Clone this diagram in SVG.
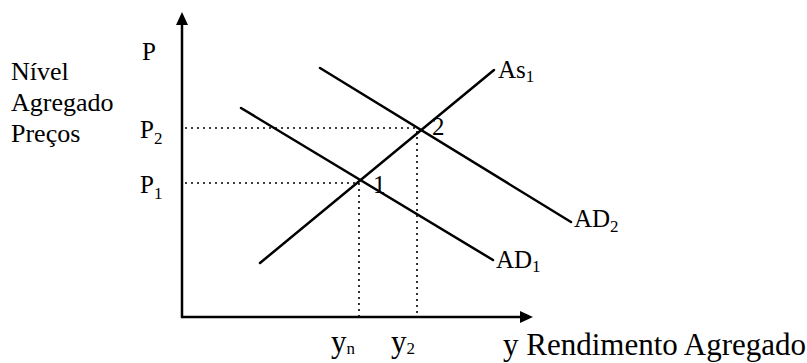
<svg xmlns="http://www.w3.org/2000/svg" width="807" height="363" viewBox="0 0 807 363">
<style>
text{font-family:"Liberation Serif","Times New Roman","DejaVu Serif",serif;fill:#000}
.lbl{font-size:25px}
.side{font-size:26px}
.big{font-size:31px}
.sub{font-size:17px}
.ln{stroke:#000;stroke-width:2.5;fill:none;stroke-linecap:round}
.dot{stroke:#000;stroke-width:1.6;fill:none;stroke-dasharray:2 4}
</style>
<rect width="807" height="363" fill="#fff"/>
<g id="axes">
<line class="ln" x1="182" y1="317" x2="182" y2="20"/>
<polygon points="182,12 176,25 188,25" fill="#000"/>
<line class="ln" x1="182" y1="317" x2="524" y2="317"/>
<polygon points="533,317 520,311 520,323" fill="#000"/>
</g>
<g id="guides">
<line class="dot" x1="185" y1="128" x2="419" y2="128"/>
<line class="dot" x1="417" y1="131" x2="417" y2="316"/>
<line class="dot" x1="185" y1="183" x2="359" y2="183"/>
<line class="dot" x1="359" y1="183" x2="359" y2="316"/>
</g>
<g id="curves">
<line id="as1" class="ln" x1="260" y1="263" x2="494" y2="70"/>
<line id="ad1" class="ln" x1="241" y1="108" x2="493" y2="260"/>
<line id="ad2" class="ln" x1="320" y1="68" x2="571" y2="222"/>
</g>
<g id="labels">
<text class="side" x="11" y="80">Nível</text>
<text class="side" x="11" y="111">Agregado</text>
<text class="side" x="11" y="142">Preços</text>
<text class="lbl" x="142" y="60">P</text>
<text class="lbl" x="140" y="138">P<tspan class="sub" dy="6">2</tspan></text>
<text class="lbl" x="140" y="193">P<tspan class="sub" dy="6">1</tspan></text>
<text class="lbl" x="373" y="193">1</text>
<text class="lbl" x="432" y="135">2</text>
<text class="lbl" x="498" y="78">As<tspan class="sub" dy="4">1</tspan></text>
<text class="lbl" x="574" y="227">AD<tspan class="sub" dy="5">2</tspan></text>
<text class="lbl" x="496" y="268">AD<tspan class="sub" dy="4">1</tspan></text>
<text class="big" x="331" y="352">y<tspan class="sub" font-size="21" dy="2">n</tspan></text>
<text class="big" x="391" y="352">y<tspan class="sub" font-size="21" dy="2">2</tspan></text>
<text class="big" x="503" y="355">y Rendimento Agregado</text>
</g>
</svg>
